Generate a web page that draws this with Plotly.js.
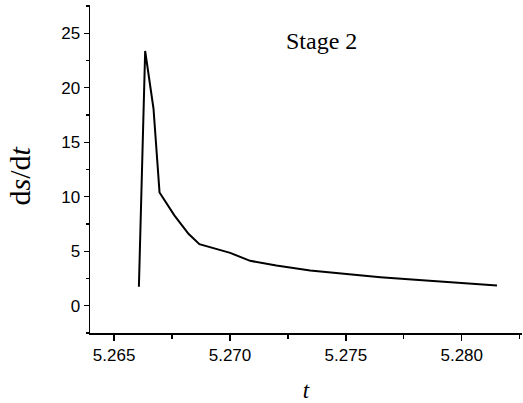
<!DOCTYPE html>
<html>
<head>
<meta charset="utf-8">
<script src="https://cdn.plot.ly/plotly-3.0.1.min.js"></script>
<style>html,body{margin:0;padding:0;background:#fff;}#chart{width:523px;height:403px;}</style>
</head>
<body>
<div id="chart"></div>
<script>
const tValues = [5.26607, 5.26634, 5.26670, 5.26696, 5.26760, 5.26821, 5.26868, 5.27001, 5.27087, 5.27200, 5.27346, 5.27500, 5.27649, 5.27800, 5.27936, 5.28152];
const dsdtValues = [1.75, 23.38, 18.1, 10.4, 8.3, 6.6, 5.65, 4.85, 4.12, 3.7, 3.23, 2.9, 2.62, 2.38, 2.17, 1.86];
const xTickVals = [5.265, 5.270, 5.275, 5.280];
const xTickText = ['5.265', '5.270', '5.275', '5.280'];
const yTickVals = [0, 5, 10, 15, 20, 25];
const annotationText = 'Stage 2';
const yTitleText = 'd<i>s</i>/d<i>t</i>';
const xTitleText = '<i>t</i>';

const SERIF = 'Liberation Serif';
const SANS = 'Liberation Sans';

const trace = {
  x: tValues, y: dsdtValues, type: 'scatter', mode: 'lines',
  line: {color: '#000', width: 2}, hoverinfo: 'none'
};

const layout = {
  width: 523, height: 403,
  margin: {l: 90, r: 1, t: 5, b: 70},
  paper_bgcolor: '#fff', plot_bgcolor: '#fff',
  showlegend: false,
  font: {family: SANS, size: 17, color: '#000'},
  xaxis: {
    range: [5.26396, 5.2826],
    tickmode: 'array', tickvals: xTickVals, ticktext: xTickText,
    tickfont: {family: SANS, size: 17, color: '#000'},
    ticks: 'outside', ticklen: 6, tickwidth: 1.3, tickcolor: '#000',
    showline: true, linecolor: '#000', linewidth: 1.5,
    showgrid: false, zeroline: false,
    minor: {dtick: 0.0025, tick0: 5.265, ticks: 'outside', ticklen: 4, tickwidth: 1.3, tickcolor: '#000', showgrid: false},
    title: {text: xTitleText, font: {family: SERIF, size: 23, color: '#000'}, standoff: 18}
  },
  yaxis: {
    range: [-2.5, 27.6],
    tickmode: 'array', tickvals: yTickVals,
    tickfont: {family: SANS, size: 17, color: '#000'},
    ticks: 'outside', ticklen: 5, tickwidth: 1.3, tickcolor: '#000',
    showline: true, linecolor: '#000', linewidth: 1.5,
    showgrid: false, zeroline: false,
    minor: {dtick: 2.5, tick0: 0, ticks: 'outside', ticklen: 3, tickwidth: 1.3, tickcolor: '#000', showgrid: false}
  },
  annotations: [{
    text: annotationText, xref: 'paper', yref: 'paper',
    x: 0.535, y: 0.89, xanchor: 'center', yanchor: 'middle', showarrow: false,
    font: {family: SERIF, size: 24, color: '#000'}
  }, {
    text: yTitleText, xref: 'paper', yref: 'paper', textangle: -90,
    x: -0.162, y: 0.477, xanchor: 'center', yanchor: 'middle', showarrow: false,
    font: {family: SERIF, size: 30, color: '#000'}
  }]
};

Plotly.newPlot('chart', [trace], layout, {displayModeBar: false, staticPlot: true});
</script>
</body>
</html>
